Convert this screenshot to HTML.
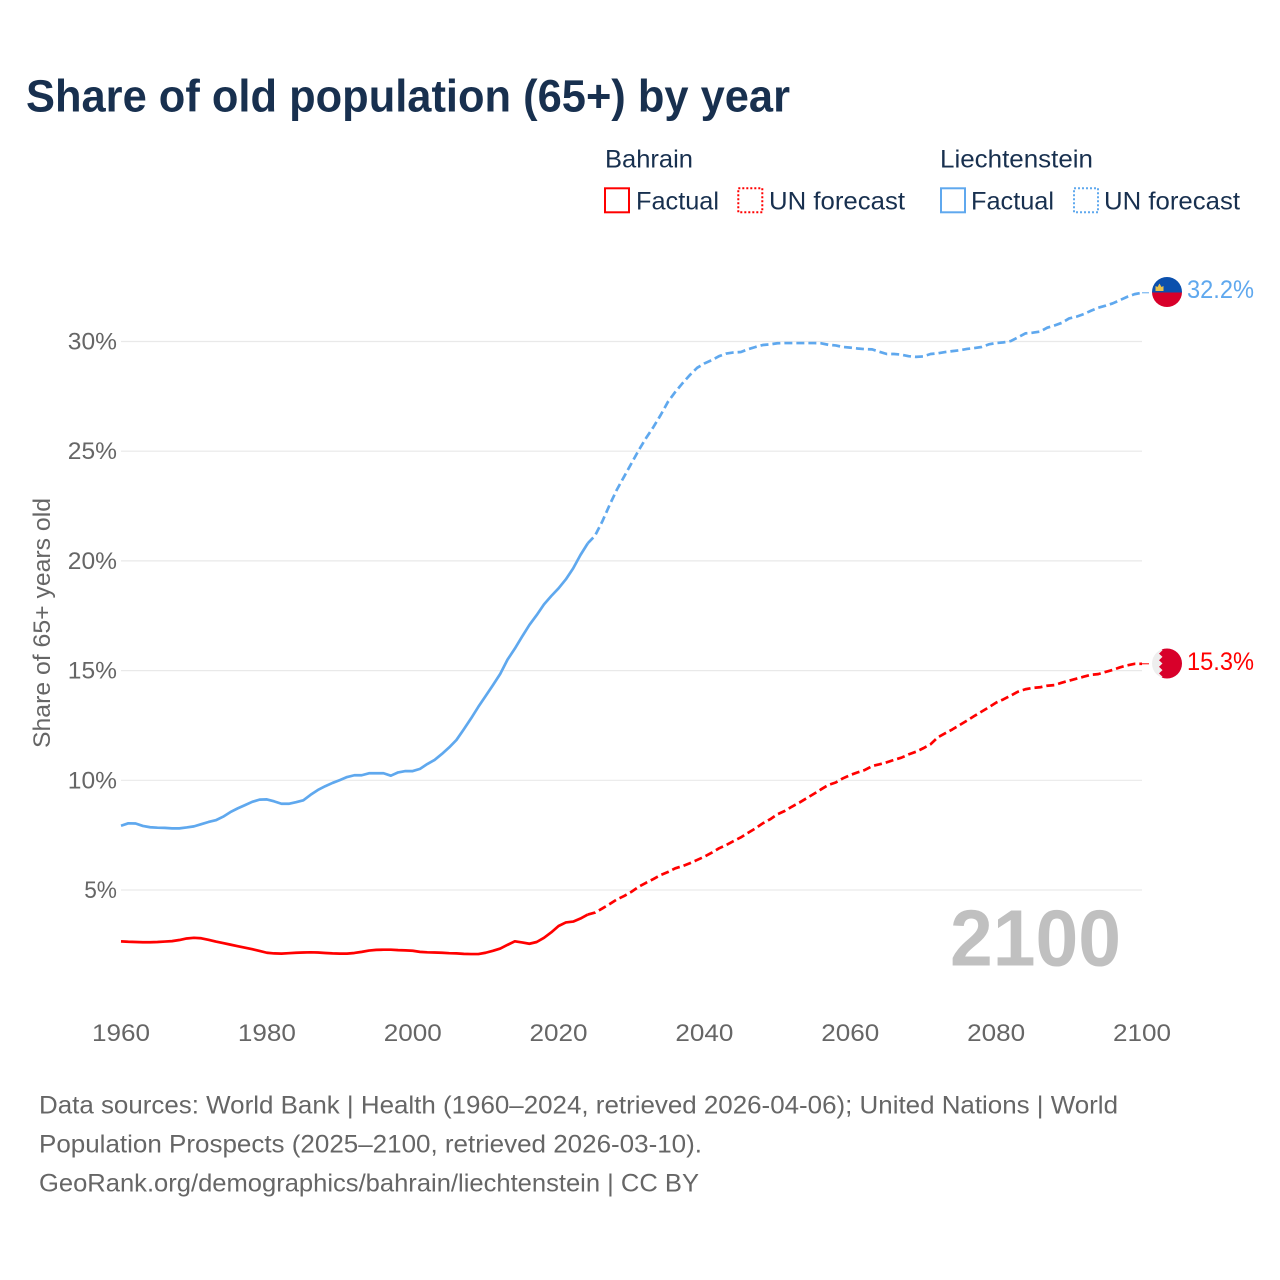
<!DOCTYPE html>
<html lang="en">
<head>
<meta charset="utf-8">
<title>Share of old population (65+) by year</title>
<style>
html,body{margin:0;padding:0;background:#fff}
svg{display:block}
text{font-family:"Liberation Sans",sans-serif}
</style>
</head>
<body>
<svg id="chart" xmlns="http://www.w3.org/2000/svg" width="1280" height="1280" viewBox="0 0 1280 1280">
  <rect width="1280" height="1280" fill="#fff"/>
  <text x="26" y="111.5" font-size="45" font-weight="700" fill="#18304f" textLength="764" lengthAdjust="spacingAndGlyphs">Share of old population (65+) by year</text>

  <g font-size="25" fill="#18304f">
    <text x="605" y="167.500" textLength="88" lengthAdjust="spacingAndGlyphs">Bahrain</text>
    <rect x="605" y="188.300" width="24" height="24" fill="none" stroke="#ff0000" stroke-width="2"/>
    <text x="636" y="209.500" textLength="83" lengthAdjust="spacingAndGlyphs">Factual</text>
    <rect x="738.300" y="188.300" width="24" height="24" fill="none" stroke="#ff0000" stroke-width="2" stroke-dasharray="2 2"/>
    <text x="769" y="209.500" textLength="136" lengthAdjust="spacingAndGlyphs">UN forecast</text>

    <text x="940" y="167.500" textLength="153" lengthAdjust="spacingAndGlyphs">Liechtenstein</text>
    <rect x="941" y="188.300" width="24" height="24" fill="none" stroke="#5fa8ee" stroke-width="2"/>
    <text x="971" y="209.500" textLength="83" lengthAdjust="spacingAndGlyphs">Factual</text>
    <rect x="1074" y="188.300" width="24" height="24" fill="none" stroke="#5fa8ee" stroke-width="2" stroke-dasharray="2 2"/>
    <text x="1104" y="209.500" textLength="136" lengthAdjust="spacingAndGlyphs">UN forecast</text>
  </g>

  <text transform="translate(50,623) rotate(-90)" text-anchor="middle" font-size="24" fill="#666" textLength="250" lengthAdjust="spacingAndGlyphs">Share of 65+ years old</text>

  <g id="grid"></g>
  <g id="yticks" font-size="24" fill="#666"></g>
  <g id="xticks" font-size="24" fill="#666"></g>

  <text x="950" y="965.500" font-size="80" font-weight="700" fill="#c0c0c0" textLength="171" lengthAdjust="spacingAndGlyphs">2100</text>

  <g id="series"></g>

  <defs>
    <clipPath id="flag-clip-li"><circle cx="1167" cy="292" r="15"/></clipPath>
    <clipPath id="flag-clip-bh"><circle cx="1167" cy="663.500" r="15"/></clipPath>
  </defs>
  <g clip-path="url(#flag-clip-li)">
    <rect x="1150" y="276" width="34" height="16.500" fill="#0b50ad"/>
    <rect x="1150" y="292.500" width="34" height="16.500" fill="#d8002a"/>
    <path d="M1155.500 291v-5l2 1 2-3.500 2 3.500 2-1v5z" fill="#e8c24c"/>
  </g>
  <g clip-path="url(#flag-clip-bh)">
    <rect x="1150" y="647" width="34" height="34" fill="#eeeeee"/>
    <path d="M1184 647H1159l3.500 3.300-3.500 3.300 3.500 3.300-3.500 3.300 3.500 3.300-3.500 3.300 3.500 3.300-3.500 3.300 3.500 3.300-3.500 3.300 3.500 1.800H1184z" fill="#d8002a"/>
  </g>

  <text id="label-li" x="1187" y="298" font-size="25" fill="#5fa8ee" textLength="67" lengthAdjust="spacingAndGlyphs">32.2%</text>
  <text id="label-bh" x="1187" y="670" font-size="25" fill="#ff0000" textLength="67" lengthAdjust="spacingAndGlyphs">15.3%</text>

  <g font-size="25" fill="#666">
    <text x="39" y="1113.500" textLength="1079" lengthAdjust="spacingAndGlyphs">Data sources: World Bank | Health (1960–2024, retrieved 2026-04-06); United Nations | World</text>
    <text x="39" y="1152.500" textLength="663" lengthAdjust="spacingAndGlyphs">Population Prospects (2025–2100, retrieved 2026-03-10).</text>
    <text x="39" y="1191.500" textLength="660" lengthAdjust="spacingAndGlyphs">GeoRank.org/demographics/bahrain/liechtenstein | CC BY</text>
  </g>
</svg>

<script>
var xTickYears = [1960, 1980, 2000, 2020, 2040, 2060, 2080, 2100];
var yTickValues = [5, 10, 15, 20, 25, 30];
var yTickLabels = ["5%", "10%", "15%", "20%", "25%", "30%"];

var factualStartYear = 1960;
var forecastStartYear = 2025;

var bahrainFactual = [
  2.66,2.64,2.63,2.62,2.62,2.63,2.65,2.67,2.72,2.79,
  2.82,2.80,2.73,2.65,2.58,2.51,2.44,2.37,2.30,2.22,
  2.14,2.11,2.10,2.12,2.14,2.15,2.16,2.15,2.13,2.11,
  2.10,2.10,2.13,2.18,2.24,2.27,2.28,2.28,2.26,2.25,
  2.23,2.18,2.16,2.15,2.14,2.12,2.11,2.09,2.08,2.08,
  2.14,2.23,2.33,2.50,2.66,2.61,2.55,2.63,2.82,3.07,
  3.36,3.52,3.56,3.70,3.88
];
var bahrainForecast = [
  3.97,4.16,4.36,4.57,4.73,
  4.92,5.15,5.33,5.50,5.68,5.82,5.99,6.09,6.22,6.37,
  6.52,6.70,6.90,7.05,7.23,7.40,7.61,7.81,8.04,8.22,
  8.45,8.60,8.80,8.98,9.18,9.38,9.59,9.79,9.90,10.09,
  10.24,10.36,10.47,10.65,10.73,10.82,10.93,11.03,11.18,11.30,
  11.46,11.64,11.96,12.14,12.32,12.52,12.72,12.93,13.13,13.33,
  13.54,13.69,13.86,14.04,14.15,14.21,14.24,14.31,14.34,14.45,
  14.54,14.63,14.72,14.81,14.84,14.94,15.03,15.15,15.24,15.31,
  15.31
];
var liechtensteinFactual = [
  7.93,8.04,8.03,7.92,7.86,7.84,7.83,7.81,7.81,7.85,
  7.90,8.00,8.10,8.18,8.34,8.55,8.72,8.87,9.02,9.12,
  9.13,9.04,8.93,8.93,9.00,9.09,9.34,9.56,9.73,9.88,
  10.01,10.15,10.23,10.23,10.32,10.32,10.32,10.21,10.36,10.42,
  10.42,10.52,10.74,10.93,11.20,11.50,11.84,12.32,12.82,13.35,
  13.84,14.34,14.85,15.50,16.00,16.55,17.08,17.53,18.02,18.40,
  18.75,19.16,19.66,20.27,20.80
];
var liechtensteinForecast = [
  21.15,21.80,22.55,23.25,23.85,
  24.45,25.05,25.60,26.10,26.65,27.25,27.70,28.10,28.47,28.80,
  29.00,29.15,29.33,29.45,29.50,29.52,29.65,29.75,29.84,29.87,
  29.92,29.93,29.93,29.93,29.93,29.93,29.92,29.85,29.82,29.75,
  29.72,29.68,29.65,29.64,29.53,29.43,29.43,29.40,29.33,29.30,
  29.32,29.43,29.46,29.52,29.56,29.60,29.66,29.70,29.75,29.87,
  29.93,29.96,30.02,30.19,30.37,30.40,30.45,30.63,30.73,30.85,
  31.05,31.13,31.25,31.40,31.54,31.63,31.74,31.89,32.04,32.16,
  32.22
];

var SVG_NS = "http://www.w3.org/2000/svg";
function xScale(year) { return 121 + (year - 1960) * (1142 - 121) / 140; }
function yScale(value) { return 999.7 - value * 21.94; }

function buildPoints(values, startYear) {
  return values.map(function (v, i) {
    return xScale(startYear + i).toFixed(2) + "," + yScale(v).toFixed(2);
  });
}

var gridGroup = document.getElementById("grid");
var yTickGroup = document.getElementById("yticks");
var xTickGroup = document.getElementById("xticks");
var seriesGroup = document.getElementById("series");

yTickValues.forEach(function (v, i) {
  var line = document.createElementNS(SVG_NS, "line");
  
  
  line.setAttribute("x1", xScale(1960));
  line.setAttribute("x2", xScale(2100));
  line.setAttribute("y1", yScale(v));
  line.setAttribute("y2", yScale(v));
  line.setAttribute("stroke", "#e9e9e9");
  line.setAttribute("stroke-width", "1.2");
  gridGroup.appendChild(line);

  var label = document.createElementNS(SVG_NS, "text");
  
  
  label.setAttribute("x", 117);
  label.setAttribute("y", yScale(v) + 8);
  label.setAttribute("text-anchor", "end");
  label.setAttribute("textLength", yTickLabels[i].length * 16.4);
  label.setAttribute("lengthAdjust", "spacingAndGlyphs");
  label.textContent = yTickLabels[i];
  yTickGroup.appendChild(label);
});

xTickYears.forEach(function (year) {
  var label = document.createElementNS(SVG_NS, "text");
  
  
  label.setAttribute("x", xScale(year));
  label.setAttribute("y", 1041);
  label.setAttribute("text-anchor", "middle");
  label.setAttribute("textLength", 58);
  label.setAttribute("lengthAdjust", "spacingAndGlyphs");
  label.textContent = String(year);
  xTickGroup.appendChild(label);
});

function drawSeries(name, color, factual, forecast) {
  var solid = document.createElementNS(SVG_NS, "polyline");
  
  
  solid.setAttribute("points", buildPoints(factual, factualStartYear).join(" "));
  solid.setAttribute("fill", "none");
  solid.setAttribute("stroke", color);
  solid.setAttribute("stroke-width", "2.7");
  solid.setAttribute("stroke-linejoin", "round");
  seriesGroup.appendChild(solid);

  var lastFactual = factual[factual.length - 1];
  var forecastPoints = buildPoints([lastFactual].concat(forecast), forecastStartYear - 1);
  var dashed = document.createElementNS(SVG_NS, "polyline");
  
  
  dashed.setAttribute("points", forecastPoints.join(" "));
  dashed.setAttribute("fill", "none");
  dashed.setAttribute("stroke", color);
  dashed.setAttribute("stroke-width", "2.7");
  dashed.setAttribute("stroke-dasharray", "8 4");
  dashed.setAttribute("stroke-linejoin", "round");
  seriesGroup.appendChild(dashed);

  var lastValue = forecast[forecast.length - 1];
  var connector = document.createElementNS(SVG_NS, "line");
  
  
  connector.setAttribute("x1", xScale(2100));
  connector.setAttribute("x2", xScale(2100) + 9);
  connector.setAttribute("y1", yScale(lastValue));
  connector.setAttribute("y2", yScale(lastValue));
  connector.setAttribute("stroke", color);
  connector.setAttribute("stroke-width", "1");
  connector.setAttribute("stroke-dasharray", "7 3");
  seriesGroup.appendChild(connector);
}

drawSeries("liechtenstein", "#5fa8ee", liechtensteinFactual, liechtensteinForecast);
drawSeries("bahrain", "#ff0000", bahrainFactual, bahrainForecast);
</script>
</body>
</html>
